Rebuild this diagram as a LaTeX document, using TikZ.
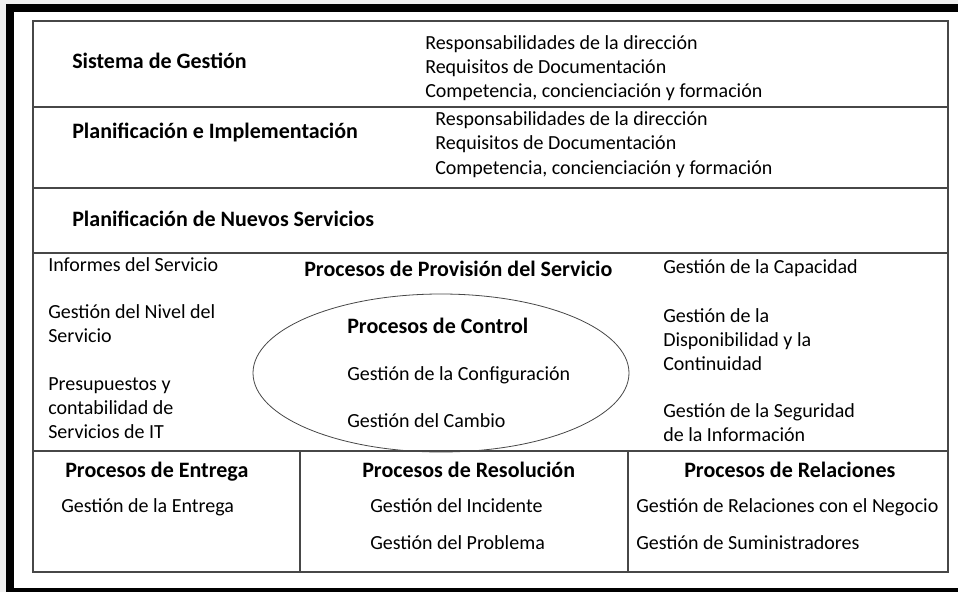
\documentclass[tikz,border=0pt]{standalone}
\usepackage{fontspec}
\setmainfont{Carlito}
\usetikzlibrary{shapes.geometric}
\definecolor{rulegray}{HTML}{474747}
\definecolor{pagegray}{HTML}{EFEFEF}

\tikzset{
  head/.style={anchor=base west, inner sep=0pt, font=\fontsize{16.5}{20}\selectfont\bfseries},
  entry/.style={anchor=base west, inner sep=0pt, font=\fontsize{15}{18}\selectfont},
  rule/.style={draw=rulegray, line width=0.9pt}
}

\begin{document}
\begin{tikzpicture}[x=0.75pt,y=-0.75pt]
  \useasboundingbox (0,0) rectangle (958,592);

  % page frame
  \fill[pagegray] (0,0) rectangle (958,592);
  \fill[black] (6,4) rectangle (958,592);
  \fill[white] (14,12) rectangle (958,588);

  % table rules
  \draw[rule] (33,21) rectangle (948,572);
  \foreach \y in {107,188,253,451} {
    \draw[rule] (33,\y) -- (948,\y);
  }
  \foreach \x in {300,628} {
    \draw[rule] (\x,451) -- (\x,572);
  }

  % control ellipse
  \node[ellipse, draw=rulegray, line width=0.6pt, minimum width=282pt, minimum height=118.5pt] (ctrl) at (441,373) {};

  % top rows
  \node[head] (sg) at (72,69) {Sistema de Gestión};
  \foreach \t/\y [count=\i] in {Responsabilidades de la dirección/50, Requisitos de Documentación/74, {Competencia, concienciación y formación}/98} {
    \node[entry] (sgl\i) at (425,\y) {\t};
  }
  \node[head] (pi) at (72,139) {Planificación e Implementación};
  \foreach \t/\y [count=\i] in {Responsabilidades de la dirección/126, Requisitos de Documentación/150, {Competencia, concienciación y formación}/175} {
    \node[entry] (pil\i) at (435,\y) {\t};
  }
  \node[head] (pns) at (72,226) {Planificación de Nuevos Servicios};

  % service provision
  \node[head] (prov) at (304,276) {Procesos de Provisión del Servicio};
  \foreach \t/\y [count=\i] in {Informes del Servicio/272, Gestión del Nivel del/318, Servicio/342, Presupuestos y/390, contabilidad de/414, Servicios de IT/438} {
    \node[entry] (left\i) at (48,\y) {\t};
  }
  \foreach \t/\y [count=\i] in {Gestión de la Capacidad/273, Gestión de la/322, Disponibilidad y la/346, Continuidad/370, Gestión de la Seguridad/417, de la Información/441} {
    \node[entry] (right\i) at (663,\y) {\t};
  }

  % control processes
  \node[head] (pc) at (347,333) {Procesos de Control};
  \node[entry] (conf) at (347,380) {Gestión de la Configuración};
  \node[entry] (camb) at (347,427) {Gestión del Cambio};

  % bottom row
  \node[head] (pe) at (65,477) {Procesos de Entrega};
  \node[entry] (ent) at (61,512) {Gestión de la Entrega};
  \node[head] (pr) at (362,477) {Procesos de Resolución};
  \node[entry] (inc) at (370,512) {Gestión del Incidente};
  \node[entry] (prob) at (370,549) {Gestión del Problema};
  \node[head] (prel) at (684,477) {Procesos de Relaciones};
  \node[entry] (neg) at (636,512) {Gestión de Relaciones con el Negocio};
  \node[entry] (sum) at (636,549) {Gestión de Suministradores};

\end{tikzpicture}
\end{document}
